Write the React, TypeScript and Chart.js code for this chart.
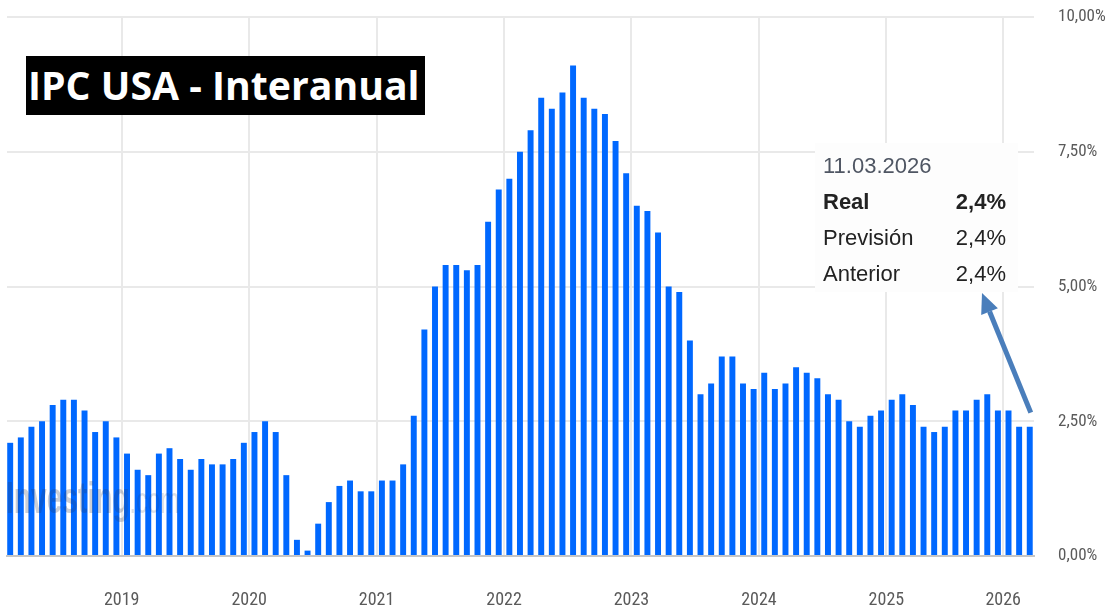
import React, { useEffect, useLayoutEffect, useRef, useState } from "react";
import { Chart, registerables } from "chart.js";

Chart.register(...registerables);

// Release month of each CPI print (Investing.com plots by release date)
const releases: string[] = [
  "2018-02", "2018-03", "2018-04", "2018-05", "2018-06", "2018-07", "2018-08", "2018-09", "2018-10", "2018-11", "2018-12",
  "2019-01", "2019-02", "2019-03", "2019-04", "2019-05", "2019-06", "2019-07", "2019-08", "2019-09", "2019-10", "2019-11", "2019-12",
  "2020-01", "2020-02", "2020-03", "2020-04", "2020-05", "2020-06", "2020-07", "2020-08", "2020-09", "2020-10", "2020-11", "2020-12",
  "2021-01", "2021-02", "2021-03", "2021-04", "2021-05", "2021-06", "2021-07", "2021-08", "2021-09", "2021-10", "2021-11", "2021-12",
  "2022-01", "2022-02", "2022-03", "2022-04", "2022-05", "2022-06", "2022-07", "2022-08", "2022-09", "2022-10", "2022-11", "2022-12",
  "2023-01", "2023-02", "2023-03", "2023-04", "2023-05", "2023-06", "2023-07", "2023-08", "2023-09", "2023-10", "2023-11", "2023-12",
  "2024-01", "2024-02", "2024-03", "2024-04", "2024-05", "2024-06", "2024-07", "2024-08", "2024-09", "2024-10", "2024-11", "2024-12",
  "2025-01", "2025-02", "2025-03", "2025-04", "2025-05", "2025-06", "2025-07", "2025-08", "2025-09", "2025-10", "2025-12",
  "2026-01", "2026-02", "2026-03",
];

// IPC USA interanual (%)
const cpiYoY: number[] = [
  2.1, 2.2, 2.4, 2.5, 2.8, 2.9, 2.9, 2.7, 2.3, 2.5, 2.2, 1.9,
  1.6, 1.5, 1.9, 2.0, 1.8, 1.6, 1.8, 1.7, 1.7, 1.8, 2.1, 2.3,
  2.5, 2.3, 1.5, 0.3, 0.1, 0.6, 1.0, 1.3, 1.4, 1.2, 1.2, 1.4,
  1.4, 1.7, 2.6, 4.2, 5.0, 5.4, 5.4, 5.3, 5.4, 6.2, 6.8, 7.0,
  7.5, 7.9, 8.5, 8.3, 8.6, 9.1, 8.5, 8.3, 8.2, 7.7, 7.1, 6.5,
  6.4, 6.0, 5.0, 4.9, 4.0, 3.0, 3.2, 3.7, 3.7, 3.2, 3.1, 3.4,
  3.1, 3.2, 3.5, 3.4, 3.3, 3.0, 2.9, 2.5, 2.4, 2.6, 2.7, 2.9,
  3.0, 2.8, 2.4, 2.3, 2.4, 2.7, 2.7, 2.9, 3.0, 2.7, 2.7,
  2.4, 2.4,
];

const yTickValues: number[] = [0, 2.5, 5, 7.5, 10];

const infoDate = "11.03.2026";
const infoRows: [string, string][] = [
  ["Real", "2,4%"],
  ["Previsión", "2,4%"],
  ["Anterior", "2,4%"],
];

const TITLE = "IPC USA - Interanual";

const BAR_COLOR = "#0068ff";
const GRID_COLOR = "#e9e9e9";
const AXIS_FONT = "'Liberation Sans Narrow', 'Roboto Condensed', 'DejaVu Sans Condensed', 'Liberation Sans', Arial, sans-serif";

export default function App() {
  const canvasRef = useRef<HTMLCanvasElement>(null);
  const titleRef = useRef<HTMLSpanElement>(null);
  const [titleScale, setTitleScale] = useState(1);

  useLayoutEffect(() => {
    const el = titleRef.current;
    if (el) {
      const w = el.offsetWidth;
      if (w > 0) setTitleScale(392 / w);
    }
  }, []);

  useEffect(() => {
    const canvas = canvasRef.current;
    if (!canvas) return;

    const yearTicks: { value: number; label: string }[] = [];
    for (let i = 1; i < releases.length; i++) {
      const a = releases[i - 1].slice(0, 4);
      const b = releases[i].slice(0, 4);
      if (a !== b) yearTicks.push({ value: i - 0.5, label: b });
    }
    const labelMap = new Map<number, string>(yearTicks.map((t) => [t.value, t.label]));

    const arrowPlugin = {
      id: "arrowAnnotation",
      afterDatasetsDraw(chart: any) {
        const meta = chart.getDatasetMeta(0);
        const last = meta.data[meta.data.length - 1];
        if (!last) return;
        const ctx = chart.ctx as CanvasRenderingContext2D;
        const x1 = last.x + 1;
        const y1 = last.y - 14;
        const x2 = 982;
        const y2 = 293;
        const ang = Math.atan2(y2 - y1, x2 - x1);
        const headLen = 20;
        const headW = 9;
        const bx = x2 - headLen * Math.cos(ang);
        const by = y2 - headLen * Math.sin(ang);
        ctx.save();
        ctx.strokeStyle = "#4a7ebb";
        ctx.fillStyle = "#4a7ebb";
        ctx.lineWidth = 5;
        ctx.beginPath();
        ctx.moveTo(x1, y1);
        ctx.lineTo(bx, by);
        ctx.stroke();
        ctx.beginPath();
        ctx.moveTo(x2, y2);
        ctx.lineTo(bx + headW * Math.sin(ang), by - headW * Math.cos(ang));
        ctx.lineTo(bx - headW * Math.sin(ang), by + headW * Math.cos(ang));
        ctx.closePath();
        ctx.fill();
        ctx.restore();
      },
    };

    const chart = new Chart(canvas, {
      type: "bar",
      data: {
        datasets: [
          {
            data: cpiYoY.map((v, i) => ({ x: i, y: v })),
            backgroundColor: BAR_COLOR,
            borderWidth: 0,
            barPercentage: 0.56,
            categoryPercentage: 1,
          },
        ],
      },
      options: {
        responsive: false,
        animation: false,
        layout: { padding: { left: 7, top: 17, right: 0, bottom: 0 } },
        plugins: {
          legend: { display: false },
          tooltip: { enabled: false },
          title: { display: false },
        },
        scales: {
          x: {
            type: "linear",
            min: -0.3,
            max: 96.4,
            offset: false,
            afterBuildTicks: (s: any) => {
              s.ticks = yearTicks.map((t) => ({ value: t.value }));
            },
            afterFit: (s: any) => {
              s.height = 59;
            },
            grid: { color: GRID_COLOR, lineWidth: 2, drawTicks: false, offset: false },
            border: { display: true, color: "#c6c6c6", width: 2 },
            ticks: {
              autoSkip: false,
              maxRotation: 0,
              padding: 34,
              color: "#5a5a5a",
              font: { family: AXIS_FONT, size: 18 },
              callback: (v: any) => labelMap.get(Number(v)) ?? "",
            },
          },
          y: {
            position: "right",
            min: 0,
            max: 10,
            afterBuildTicks: (s: any) => {
              s.ticks = yTickValues.map((v) => ({ value: v }));
            },
            afterFit: (s: any) => {
              s.width = 72;
            },
            grid: {
              color: GRID_COLOR,
              lineWidth: 2,
              drawTicks: true,
              tickLength: 20,
              tickColor: "rgba(0,0,0,0)",
            },
            border: { display: false },
            ticks: {
              padding: 4,
              color: "#5a5a5a",
              font: { family: AXIS_FONT, size: 17 },
              callback: (v: any) => Number(v).toFixed(2).replace(".", ",") + "%",
            },
          },
        },
      },
      plugins: [arrowPlugin],
    });

    return () => chart.destroy();
  }, []);

  return (
    <div
      style={{
        position: "fixed",
        left: 0,
        top: 0,
        width: 1106,
        height: 615,
        background: "#ffffff",
        overflow: "hidden",
      }}
    >
      <canvas
        ref={canvasRef}
        width={1106}
        height={615}
        style={{ position: "absolute", left: 0, top: 0, width: 1106, height: 615 }}
      />
      {/* watermark */}
      <div
        style={{
          position: "absolute",
          left: 6,
          top: 470,
          fontFamily: "'Liberation Sans', Arial, sans-serif",
          fontSize: 44,
          lineHeight: "56px",
          fontWeight: 700,
          color: "rgba(40,55,85,0.24)",
          pointerEvents: "none",
          whiteSpace: "nowrap",
          transform: "scaleX(0.64)",
          transformOrigin: "0 0",
        }}
      >
        Investing<span style={{ fontWeight: 400, fontSize: 36, color: "rgba(40,55,85,0.16)" }}>.com</span>
      </div>
      {/* title */}
      <div
        style={{
          position: "absolute",
          left: 26,
          top: 56,
          width: 399,
          height: 59,
          background: "#000000",
          overflow: "hidden",
        }}
      >
        <span
          ref={titleRef}
          style={{
            position: "absolute",
            left: 2,
            top: 5,
            fontFamily: "'Open Sans', 'Noto Sans', sans-serif",
            fontWeight: 700,
            fontSize: 39,
            lineHeight: "48px",
            color: "#ffffff",
            whiteSpace: "nowrap",
            transform: `scaleX(${titleScale})`,
            transformOrigin: "0 0",
          }}
        >
          {TITLE}
        </span>
      </div>
      {/* info box */}
      <div
        style={{
          position: "absolute",
          left: 815,
          top: 143,
          width: 203,
          height: 149,
          background: "rgba(253,253,253,0.97)",
          fontFamily: "'Liberation Sans', Arial, sans-serif",
          fontSize: 22,
          color: "#222222",
        }}
      >
        <div style={{ position: "absolute", left: 8, top: 10, color: "#4f5663", lineHeight: "26px" }}>{infoDate}</div>
        {infoRows.map((r, i) => (
          <div
            key={r[0]}
            style={{
              position: "absolute",
              left: 8,
              top: 46 + i * 36,
              width: 183,
              lineHeight: "26px",
              display: "flex",
              justifyContent: "space-between",
              fontWeight: i === 0 ? 700 : 400,
            }}
          >
            <span>{r[0]}</span>
            <span>{r[1]}</span>
          </div>
        ))}
      </div>
    </div>
  );
}
